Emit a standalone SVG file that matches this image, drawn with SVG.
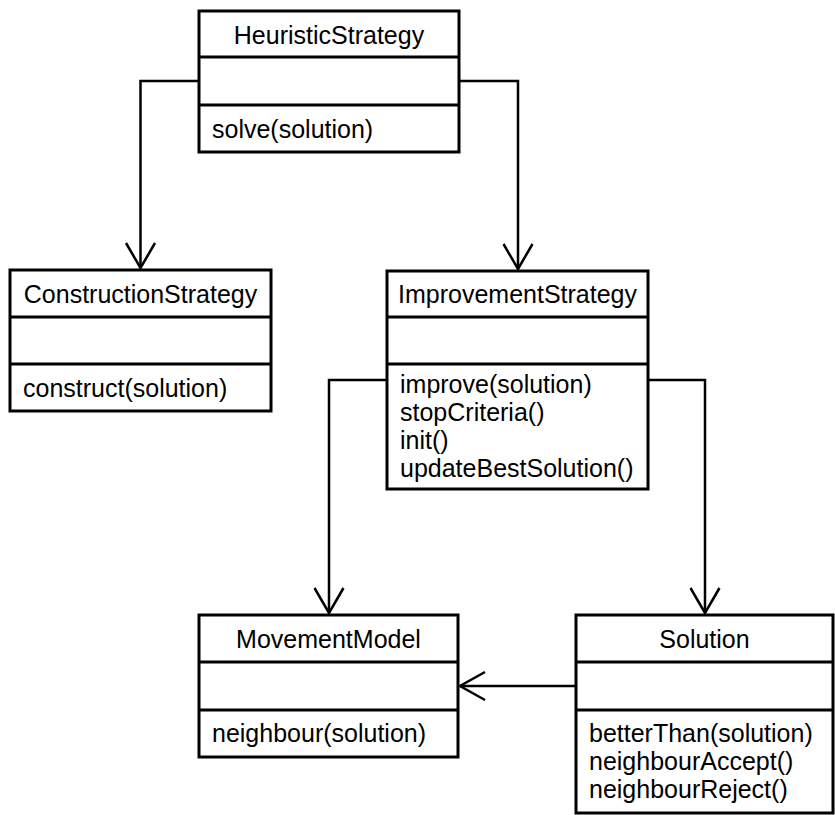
<svg xmlns="http://www.w3.org/2000/svg" width="835" height="815" viewBox="0 0 835 815">
<style>
.box{fill:#fff;stroke:#000;stroke-width:3}
.div{stroke:#000;stroke-width:3}
.t{font-family:"Liberation Sans",Arial,sans-serif;font-size:25px;fill:#000}
.c{text-anchor:middle}
.con{fill:none;stroke:#000;stroke-width:2.5}
</style>
<rect width="835" height="815" fill="#fff"/>
<g id="connectors">
<path class="con" d="M199,81 H140.5 V268"/>
<path class="con" d="M126,243 L140.5,268 L155,243"/>
<path class="con" d="M459,81 H518 V269"/>
<path class="con" d="M503.5,244 L518,269 L532.5,244"/>
<path class="con" d="M387,380 H329 V613"/>
<path class="con" d="M314.5,588 L329,613 L343.5,588"/>
<path class="con" d="M648,380 H705 V613"/>
<path class="con" d="M690.5,588 L705,613 L719.5,588"/>
<path class="con" d="M576,686 H460"/>
<path class="con" d="M485,672 L460,686 L485,700"/>
</g>
<g id="HeuristicStrategy">
<rect class="box" x="199" y="11" width="260" height="141"/>
<line class="div" x1="199" y1="57" x2="459" y2="57"/>
<line class="div" x1="199" y1="105" x2="459" y2="105"/>
<text class="t c" x="329" y="44">HeuristicStrategy</text>
<text class="t" x="212" y="138">solve(solution)</text>
</g>
<g id="ConstructionStrategy">
<rect class="box" x="10" y="270" width="261" height="141"/>
<line class="div" x1="10" y1="317" x2="271" y2="317"/>
<line class="div" x1="10" y1="364" x2="271" y2="364"/>
<text class="t c" x="140.5" y="303">ConstructionStrategy</text>
<text class="t" x="23" y="397">construct(solution)</text>
</g>
<g id="ImprovementStrategy">
<rect class="box" x="387" y="271" width="261" height="218"/>
<line class="div" x1="387" y1="317" x2="648" y2="317"/>
<line class="div" x1="387" y1="364" x2="648" y2="364"/>
<text class="t c" x="517.5" y="303">ImprovementStrategy</text>
<text class="t" x="400" y="393">improve(solution)</text>
<text class="t" x="400" y="421">stopCriteria()</text>
<text class="t" x="400" y="449">init()</text>
<text class="t" x="400" y="477">updateBestSolution()</text>
</g>
<g id="MovementModel">
<rect class="box" x="199" y="615" width="259" height="142"/>
<line class="div" x1="199" y1="662" x2="458" y2="662"/>
<line class="div" x1="199" y1="710" x2="458" y2="710"/>
<text class="t c" x="328.5" y="648">MovementModel</text>
<text class="t" x="212" y="742">neighbour(solution)</text>
</g>
<g id="Solution">
<rect class="box" x="576" y="615" width="257" height="198"/>
<line class="div" x1="576" y1="662" x2="833" y2="662"/>
<line class="div" x1="576" y1="710" x2="833" y2="710"/>
<text class="t c" x="704.5" y="648">Solution</text>
<text class="t" x="589" y="742">betterThan(solution)</text>
<text class="t" x="589" y="770">neighbourAccept()</text>
<text class="t" x="589" y="798">neighbourReject()</text>
</g>
</svg>
